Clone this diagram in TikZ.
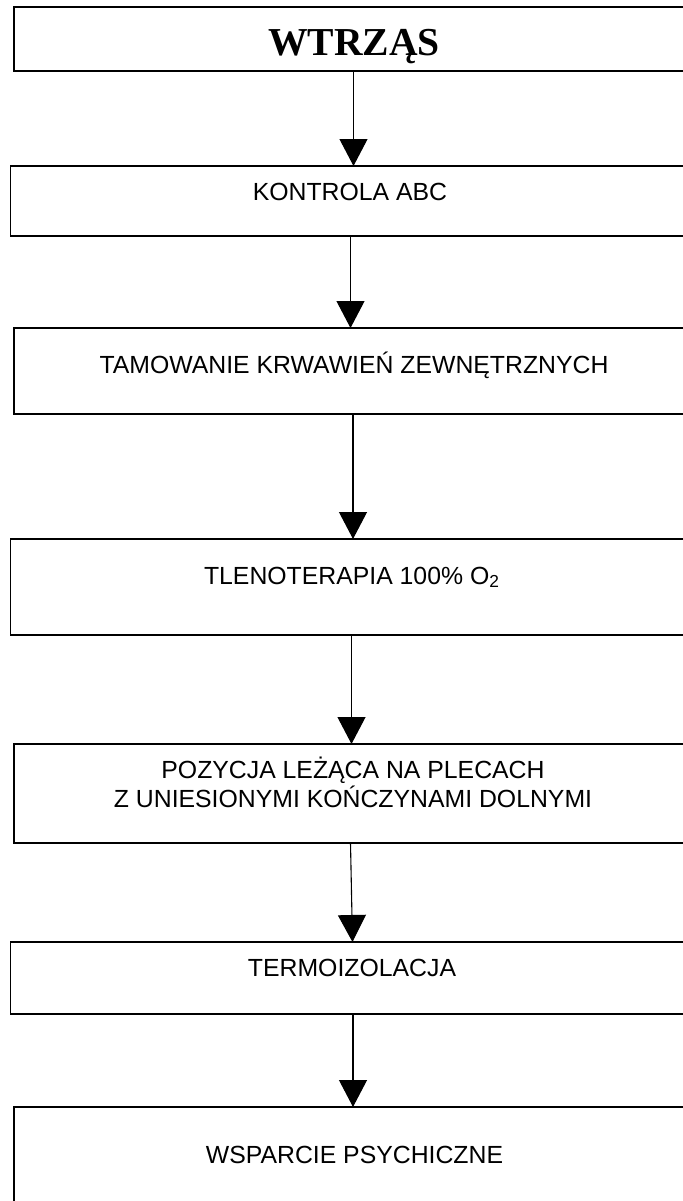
\documentclass[tikz,border=0pt]{standalone}
\usepackage{fontspec}
\setmainfont{Liberation Sans}
\newfontfamily\titlefont{Liberation Serif}
\usetikzlibrary{arrows.meta}
\tikzset{
  box/.style={draw=black, line width=0.75pt, rectangle, anchor=north west, inner sep=0pt, outer sep=0pt},
  lbl/.style={anchor=base, inner sep=0pt, font=\fontsize{12.4pt}{14.5pt}\selectfont, align=center},
  conn/.style={line width=0.55pt, -{Triangle[width=14pt,length=13.5pt]}},
}
\begin{document}
\begin{tikzpicture}[x=0.5pt,y=-0.5pt]
\useasboundingbox (0,0) rectangle (683,1201);
% boxes (right edges run past the picture's edge)
\node[box, minimum width=340.5pt, minimum height=32pt]   (b1) at (14,7) {};
\node[box, minimum width=342.25pt, minimum height=35pt]  (b2) at (10.5,166) {};
\node[box, minimum width=340.5pt, minimum height=43pt]   (b3) at (14,328) {};
\node[box, minimum width=342.25pt, minimum height=48pt]  (b4) at (10.5,539) {};
\node[box, minimum width=340.5pt, minimum height=49.5pt] (b5) at (14,744) {};
\node[box, minimum width=342.25pt, minimum height=36pt]  (b6) at (10.5,942) {};
\node[box, minimum width=340.5pt, minimum height=60pt]   (b7) at (14,1107) {};
% texts
\node[anchor=base, inner sep=0pt, font=\titlefont\bfseries\fontsize{19.8pt}{22pt}\selectfont] (t1) at (354,55) {WTRZĄS};
\node[lbl] (t2) at (350,200) {KONTROLA ABC};
\node[lbl] (t3) at (354,373) {TAMOWANIE KRWAWIEŃ ZEWNĘTRZNYCH};
\node[lbl] (t4) at (352,584) {TLENOTERAPIA 100\% O\textsubscript{2}};
\node[lbl] (t5a) at (353,778) {POZYCJA LEŻĄCA NA PLECACH};
\node[lbl] (t5b) at (353,807) {Z UNIESIONYMI KOŃCZYNAMI DOLNYMI};
\node[lbl] (t6) at (352,976) {TERMOIZOLACJA};
\node[lbl] (t7) at (354.5,1163) {WSPARCIE PSYCHICZNE};
% connectors
\draw[conn] (b1.south -| t1.south) ++(-0.5,0) coordinate (a1s) -- (a1s |- b2.north);
\draw[conn] (b2.south -| t2.south) ++(0.5,0) coordinate (a2s) -- (a2s |- b3.north);
\draw[conn] (b3.south -| t3.south) ++(-1,0) coordinate (a3s) -- (a3s |- b4.north);
\draw[conn] (b4.south -| t4.south) ++(-0.5,0) coordinate (a4s) -- (a4s |- b5.north);
\draw[conn] (b5.south -| t5b.south) ++(-2.5,0) coordinate (a5s) -- ([xshift=1pt]a5s |- b6.north);
\draw[conn] (b6.south -| t6.south) ++(1,0) coordinate (a6s) -- (a6s |- b7.north);
\end{tikzpicture}
\end{document}
